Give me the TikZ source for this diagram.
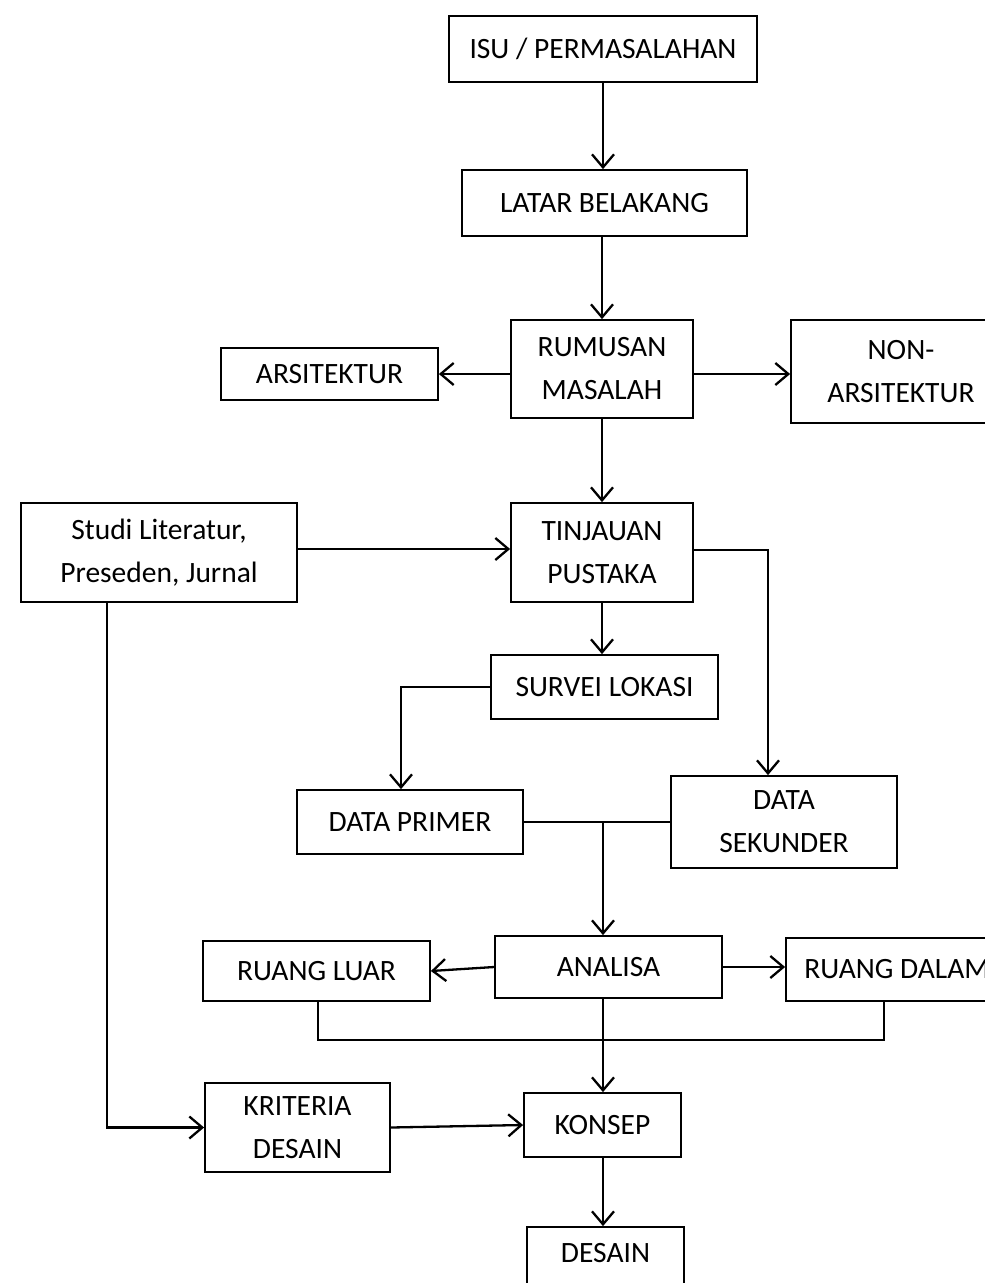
\documentclass[tikz,border=0pt]{standalone}
\usepackage{fontspec}
\setmainfont{Carlito}
\usetikzlibrary{arrows.meta,calc}
\tikzset{
  bx/.style={draw=black, line width=1.8pt, inner sep=0pt, align=center,
    font=\fontsize{29.5}{43}\selectfont},
  arr/.style={line width=2.3pt, -{Straight Barb[length=13pt,width=22pt]}},
  thinline/.style={line width=1.4pt},
}
\begin{document}
\begin{tikzpicture}[x=1pt,y=-1pt]
\useasboundingbox (0,0) rectangle (985,1283);
\clip (0,0) rectangle (985,1283);
\fill[white] (0,0) rectangle (985,1283);

\node[bx, minimum width=308, minimum height=66] (isu) at (603,49) {ISU / PERMASALAHAN};
\node[bx, minimum width=285, minimum height=66] (latar) at (604.5,203) {LATAR BELAKANG};
\node[bx, minimum width=182, minimum height=98] (rumusan) at (602,369) {RUMUSAN\\MASALAH};
\node[bx, minimum width=217, minimum height=52] (arsi) at (329.5,374) {ARSITEKTUR};
\node[bx, minimum width=220, minimum height=103] (non) at (901,371.5) {NON-\\ARSITEKTUR};
\node[bx, minimum width=276, minimum height=99] (studi) at (159,552.5) {Studi Literatur,\\Preseden, Jurnal};
\node[bx, minimum width=182, minimum height=99] (tinjauan) at (602,552.5) {TINJAUAN\\PUSTAKA};
\node[bx, minimum width=227, minimum height=64] (survei) at (604.5,687) {SURVEI LOKASI};
\node[bx, minimum width=226, minimum height=64] (primer) at (410,822) {DATA PRIMER};
\node[bx, minimum width=226, minimum height=92] (sekunder) at (784,822) {DATA\\SEKUNDER};
\node[bx, minimum width=227, minimum height=62] (analisa) at (608.5,967) {ANALISA};
\node[bx, minimum width=227, minimum height=60] (luar) at (316.5,971) {RUANG LUAR};
\node[bx, minimum width=222, minimum height=63] (dalam) at (897,969.5) {RUANG DALAM};
\node[bx, minimum width=185, minimum height=89] (kriteria) at (297.5,1127.5) {KRITERIA\\DESAIN};
\node[bx, minimum width=157, minimum height=64] (konsep) at (602.5,1125) {KONSEP};
\node[bx, minimum width=157, minimum height=70] (desain) at (605.5,1262) {DESAIN\rule[-18pt]{0pt}{0pt}};

\coordinate (j1) at (603,822);
\coordinate (b1) at (318,1040);
\coordinate (b2) at (884,1040);
\coordinate (d1) at (884,1001);

\draw[arr] (isu.south) -- (isu.south |- latar.north);
\draw[arr] (rumusan.north |- latar.south) -- (rumusan.north);
\draw[arr] (rumusan.west |- arsi.east) -- (arsi.east);
\draw[arr] (rumusan.east |- arsi.east) -- (non.west |- arsi.east);
\draw[arr] (rumusan.south) -- (tinjauan.north);
\draw[arr] (studi.east |- 0,549) -- (tinjauan.west |- 0,549);
\draw[arr] (tinjauan.south) -- (tinjauan.south |- survei.north);
\draw[arr] (tinjauan.east |- 0,550) -| ([xshift=-16pt]sekunder.north);
\draw[arr] (survei.west) -| ([xshift=-9pt]primer.north);
\draw[thinline] (primer.east) -- (sekunder.west);
\draw[arr] (j1) -- (j1 |- analisa.north);
\draw[arr] (analisa.west) -- (luar.east);
\draw[arr] (analisa.east) -- (dalam.west |- analisa.east);
\draw[thinline] (luar.south -| b1) -- (b1) -- (b2) -- (d1);
\draw[arr] (analisa.south -| j1) -- (konsep.north -| j1);
\draw[arr] ([xshift=-52pt]studi.south) |- (kriteria.west);
\draw[arr] (kriteria.east) -- (konsep.west);
\draw[arr] (konsep.south -| j1) -- (desain.north -| j1);
\end{tikzpicture}
\end{document}
